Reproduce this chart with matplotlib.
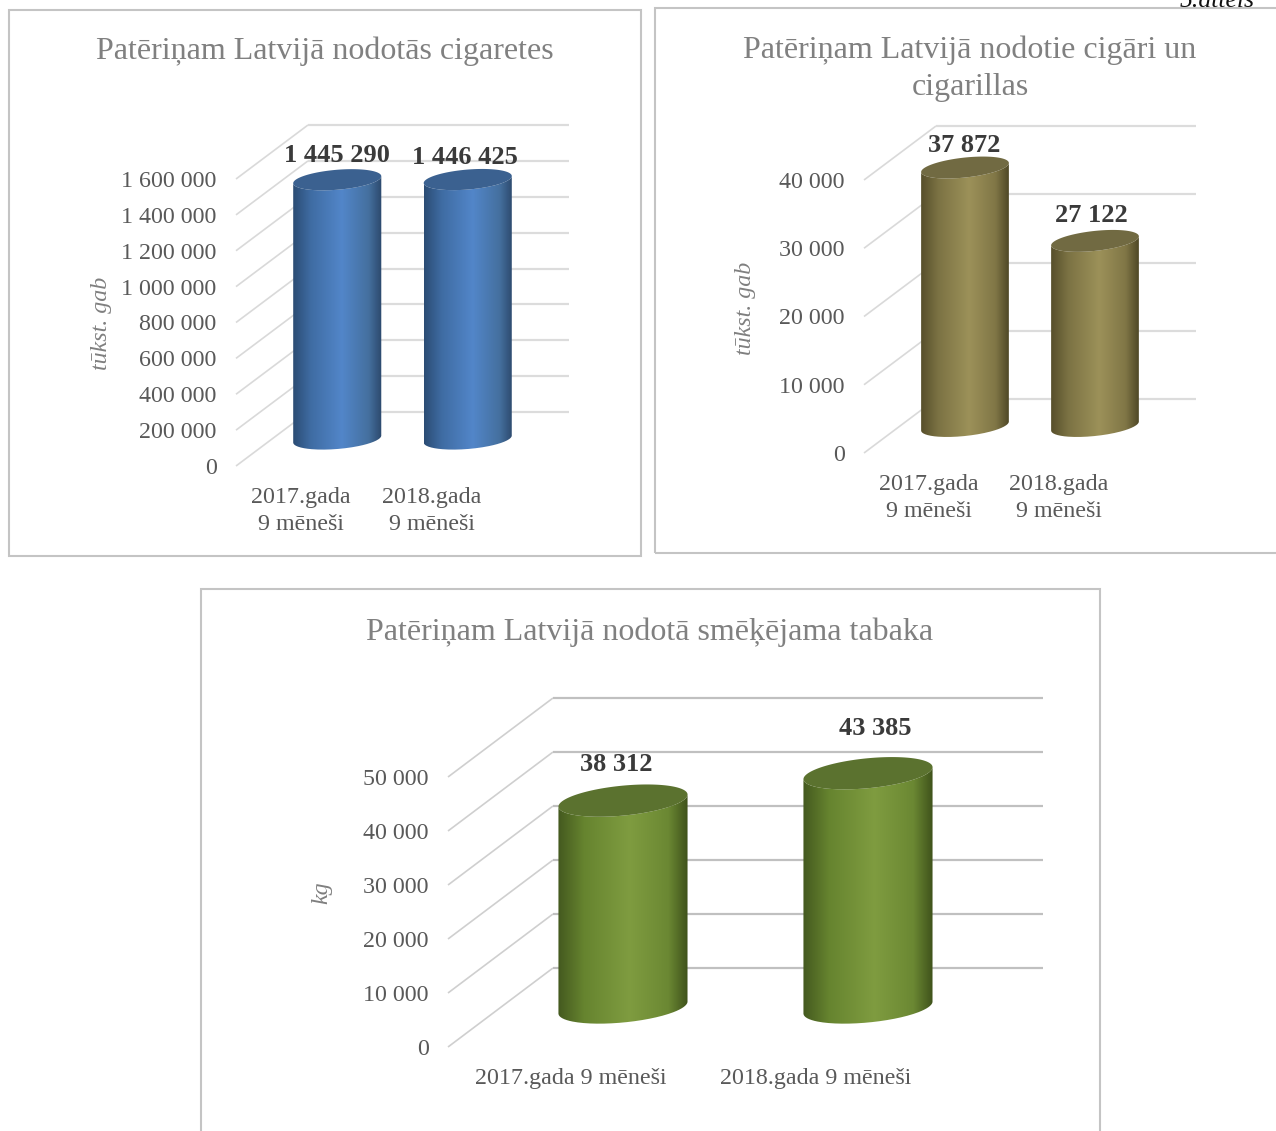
import numpy as np
import matplotlib
matplotlib.use("Agg")
import matplotlib.pyplot as plt
from matplotlib.colors import LinearSegmentedColormap
from matplotlib.patches import PathPatch, Polygon, Rectangle
from matplotlib.path import Path

W, H = 1276, 1131

# data
categories_two_lines = ["2017.gada\n9 mēneši", "2018.gada\n9 mēneši"]
categories_one_line = ["2017.gada 9 mēneši", "2018.gada 9 mēneši"]

cigarettes = [1445290, 1446425]
cigarette_ticks = [0, 200000, 400000, 600000, 800000, 1000000, 1200000, 1400000, 1600000]

cigars = [37872, 27122]
cigar_ticks = [0, 10000, 20000, 30000, 40000]

tobacco = [38312, 43385]
tobacco_ticks = [0, 10000, 20000, 30000, 40000, 50000]

plt.rcParams["font.family"] = ["Liberation Serif", "DejaVu Serif"]


def spaced(v):
    return f"{v:,}".replace(",", " ")


def px_axes(fig, left, right, top, bottom):
    ax = fig.add_axes([left / W, 1 - bottom / H, (right - left) / W, (bottom - top) / H])
    ax.set_frame_on(False)
    ax.patch.set_visible(False)
    return ax


def cylinder(ax, fig, x, base, top, half_w, b, rise, colors, top_color):
    # b and rise are in value units, half_w in category units
    t = np.linspace(0, np.pi, 80)
    xs = half_w * np.cos(t)
    lower_top = np.column_stack([x + xs[::-1], top + rise * xs[::-1] / half_w - b * np.sin(t)])
    lower_base = np.column_stack([x + xs, base + rise * xs / half_w - b * np.sin(t[::-1])])
    body = PathPatch(Path(np.vstack([lower_top, lower_base, lower_top[:1]])),
                     transform=ax.transData, facecolor="none", edgecolor="none")
    ax.add_patch(body)

    cmap = LinearSegmentedColormap.from_list("bar", list(zip([0, 0.2, 0.55, 0.85, 1.0], colors)))
    im = ax.imshow(np.linspace(0, 1, 256).reshape(1, -1), cmap=cmap, aspect="auto",
                   extent=[x - half_w, x + half_w, base - 2 * b - abs(rise), top + 2 * b + abs(rise)],
                   zorder=3, interpolation="bilinear")
    im.set_clip_path(body)
    im.set_clip_box(fig.bbox)

    a = np.linspace(0, 2 * np.pi, 160)
    ellipse = np.column_stack([x + half_w * np.cos(a), top + rise * np.cos(a) + b * np.sin(a)])
    ax.add_patch(Polygon(ellipse, closed=True, facecolor=top_color, edgecolor="none",
                         zorder=4, clip_on=False))


def draw_panel(fig, box, cats, values, ticks, ylabel, ylabel_xy, grid_color, side_color,
               depth, bar_w, b_px, rise_px, colors, top_color, label_offsets):
    left, right, top, bottom = box
    ax = px_axes(fig, left, right, top, bottom)
    vmax = ticks[-1]
    per_px = vmax / (bottom - top)
    per_cat = 2 / (right - left)
    dx, dy = depth[0] * per_cat, depth[1] * per_px

    # walls: side gridlines and the back wall
    for v in ticks:
        ax.plot([-0.5, -0.5 + dx], [v, v + dy], color=side_color, lw=1.2, clip_on=False, zorder=1,
                solid_capstyle="butt")
        ax.plot([-0.5 + dx, 1.5 + dx], [v + dy, v + dy], color=grid_color, lw=1.6, clip_on=False, zorder=1,
                solid_capstyle="butt")

    for i, v in enumerate(values):
        x = i + dx / 2
        base = dy / 2
        cylinder(ax, fig, x, base, base + v, bar_w / 2, b_px * per_px, rise_px * per_px, colors, top_color)
        ax.annotate(spaced(v), (x, base + v), xytext=label_offsets[i], textcoords="offset pixels",
                    ha="center", va="center", fontsize=19, fontweight="bold", color="#3a3a3a",
                    annotation_clip=False, zorder=5)

    ax.set_xlim(-0.5, 1.5)
    ax.set_ylim(0, vmax)
    ax.set_xticks([0, 1])
    ax.set_xticklabels(cats, fontsize=17.3, color="#595959", linespacing=1.38)
    ax.set_yticks(ticks)
    ax.set_yticklabels([spaced(t) for t in ticks], fontsize=17.3, color="#595959")
    ax.tick_params(axis="x", length=0, pad=15)
    ax.tick_params(axis="y", length=0, pad=14)
    fig.text(ylabel_xy[0] / W, 1 - ylabel_xy[1] / H, ylabel, rotation=90, ha="center", va="center",
             fontsize=17.3, fontstyle="italic", color="#7f7f7f")
    return ax


fig = plt.figure(figsize=(W / 100, H / 100), dpi=100)

# chart frames
for x0, y0, x1, y1 in [(9, 10, 641, 556), (655, 8, 1290, 553), (201, 589, 1100, 1150)]:
    fig.add_artist(Rectangle((x0 / W, 1 - y1 / H), (x1 - x0) / W, (y1 - y0) / H, transform=fig.transFigure,
                             facecolor="none", edgecolor="#c4c4c4", lw=1.5))

# the caption is cut by the top edge in the reference as well
fig.text(1255 / W, 1 - 1 / H, "5.attēls", ha="right", va="center", fontsize=18.5, fontstyle="italic",
         color="#111111")

blue = ["#2b4c74", "#3f6ca3", "#5286c9", "#45709f", "#2c486c"]
olive = ["#574f2b", "#7c7344", "#9c9159", "#807646", "#4f4826"]
green = ["#44591f", "#66842f", "#7f9c40", "#6b8833", "#3f521b"]

draw_panel(fig, (236, 497, 179, 466), categories_two_lines, cigarettes, cigarette_ticks,
           "tūkst. gab", (102, 323), "#dcdcdc", "#d9d9d9", (72, 54), 0.675, 10, 3.5,
           blue, "#3b6190", [(0, 24), (-3, 22)])
draw_panel(fig, (864, 1124, 180, 453), categories_two_lines, cigars, cigar_ticks,
           "tūkst. gab", (745, 308), "#dcdcdc", "#d9d9d9", (72, 54), 0.675, 10, 4.5,
           olive, "#716a42", [(-1, 22), (-4, 25)])
draw_panel(fig, (448, 938, 777, 1047), categories_one_line, tobacco, tobacco_ticks,
           "kg", (322, 893), "#c0c0c0", "#cfcfcf", (105, 79), 0.527, 15, 6,
           green, "#5b722f", [(-7, 36), (7, 45)])

title_kw = dict(ha="center", va="center", fontsize=23, color="#808080")
fig.text(325 / W, 1 - 51 / H, "Patēriņam Latvijā nodotās cigaretes", **title_kw)
fig.text(970 / W, 1 - 50 / H, "Patēriņam Latvijā nodotie cigāri un", **title_kw)
fig.text(970 / W, 1 - 87 / H, "cigarillas", **title_kw)
fig.text(650 / W, 1 - 632 / H, "Patēriņam Latvijā nodotā smēķējama tabaka", **title_kw)

fig.savefig("out.png", dpi=100)
